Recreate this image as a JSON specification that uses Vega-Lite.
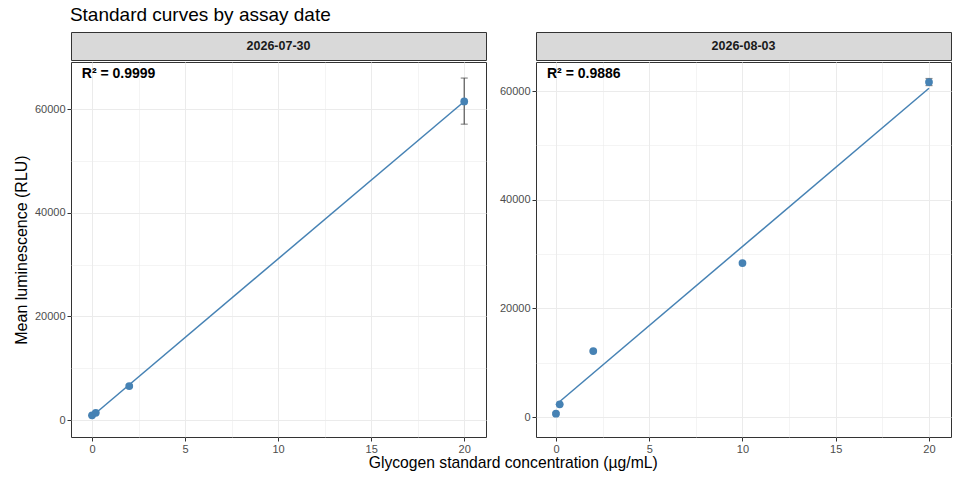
{
  "$schema": "https://vega.github.io/schema/vega-lite/v6.json",
  "background": "white",
  "padding": {"left": 12, "top": 5, "right": 5, "bottom": 5},
  "title": {
    "text": "Standard curves by assay date",
    "anchor": "start",
    "dx": 57,
    "offset": 7,
    "fontSize": 19,
    "fontWeight": "normal",
    "font": "Liberation Sans",
    "color": "#000000"
  },
  "datasets": {
    "curves": [
      {"assay_date": "2026-07-30", "conc": 0, "mean": 900, "lo": 820, "hi": 980},
      {"assay_date": "2026-07-30", "conc": 0.2, "mean": 1400, "lo": 1300, "hi": 1500},
      {"assay_date": "2026-07-30", "conc": 2, "mean": 6560, "lo": 6350, "hi": 6770},
      {"assay_date": "2026-07-30", "conc": 20, "mean": 61500, "lo": 57100, "hi": 66000},
      {"assay_date": "2026-08-03", "conc": 0, "mean": 620, "lo": 450, "hi": 800},
      {"assay_date": "2026-08-03", "conc": 0.2, "mean": 2340, "lo": 2250, "hi": 2430},
      {"assay_date": "2026-08-03", "conc": 2, "mean": 12140, "lo": 12000, "hi": 12280},
      {"assay_date": "2026-08-03", "conc": 10, "mean": 28330, "lo": 28150, "hi": 28510},
      {"assay_date": "2026-08-03", "conc": 20, "mean": 61640, "lo": 61000, "hi": 62300}
    ]
  },
  "vconcat": [
    {
      "title": {
        "text": "Glycogen standard concentration (µg/mL)",
        "orient": "bottom",
        "anchor": "middle",
        "dx": 31,
        "offset": 1,
        "fontSize": 15.7,
        "fontWeight": "normal",
        "font": "Liberation Sans",
        "color": "#000000"
      },
      "spacing": 11,
      "hconcat": [
        {
          "spacing": 0,
          "vconcat": [
            {
              "width": 415,
              "height": 28,
              "view": {"fill": "#d9d9d9", "stroke": "#333333", "strokeWidth": 1},
              "data": {"values": [{"assay_date": "2026-07-30"}]},
              "mark": {"type": "text", "fontWeight": "bold", "fontSize": 12.5, "color": "#1a1a1a", "font": "Liberation Sans"},
              "encoding": {"text": {"field": "assay_date"}}
            },
            {
              "width": 415,
              "height": 375,
              "layer": [
                {
                  "data": {"name": "curves"},
                  "transform": [{"filter": "datum.assay_date === '2026-07-30'"}],
                  "mark": {"type": "errorbar", "color": "#555555", "thickness": 1.2, "ticks": {"size": 7}},
                  "encoding": {
                    "x": {
                      "field": "conc",
                      "type": "quantitative",
                      "scale": {"domain": [-1.13, 21.17], "nice": false, "zero": false},
                      "axis": {
                        "title": null,
                        "values": [0, 2.5, 5, 7.5, 10, 12.5, 15, 17.5, 20],
                        "labelExpr": "datum.value % 5 === 0 ? datum.label : ''",
                        "tickOpacity": {"condition": {"test": "datum.value % 5 === 0", "value": 1}, "value": 0},
                        "gridWidth": {"condition": {"test": "datum.value % 5 === 0", "value": 1}, "value": 0.55}
                      }
                    },
                    "y": {
                      "field": "lo",
                      "type": "quantitative",
                      "scale": {"domain": [-3280, 69100], "nice": false, "zero": false},
                      "axis": {
                        "title": "Mean luminescence (RLU)",
                        "titlePadding": 5,
                        "values": [0, 10000, 20000, 30000, 40000, 50000, 60000],
                        "labelExpr": "datum.value % 20000 === 0 ? datum.label : ''",
                        "format": "d",
                        "tickOpacity": {"condition": {"test": "datum.value % 20000 === 0", "value": 1}, "value": 0},
                        "gridWidth": {"condition": {"test": "datum.value % 20000 === 0", "value": 1}, "value": 0.55}
                      }
                    },
                    "y2": {"field": "hi"}
                  }
                },
                {
                  "data": {"name": "curves"},
                  "transform": [
                    {"filter": "datum.assay_date === '2026-07-30'"},
                    {"regression": "mean", "on": "conc"}
                  ],
                  "mark": {"type": "line", "color": "#4682b4", "strokeWidth": 1.5},
                  "encoding": {
                    "x": {"field": "conc", "type": "quantitative"},
                    "y": {"field": "mean", "type": "quantitative"}
                  }
                },
                {
                  "data": {"name": "curves"},
                  "transform": [{"filter": "datum.assay_date === '2026-07-30'"}],
                  "mark": {"type": "circle", "color": "#4682b4", "opacity": 1, "size": 60},
                  "encoding": {
                    "x": {"field": "conc", "type": "quantitative"},
                    "y": {"field": "mean", "type": "quantitative"}
                  }
                },
                {
                  "data": {"values": [{"label": "R² = 0.9999"}]},
                  "mark": {"type": "text", "align": "left", "baseline": "middle", "fontWeight": "bold", "fontSize": 14, "color": "#000000", "font": "Liberation Sans"},
                  "encoding": {
                    "x": {"datum": -0.55, "type": "quantitative"},
                    "y": {"datum": 66750, "type": "quantitative"},
                    "text": {"field": "label"}
                  }
                }
              ]
            }
          ]
        },
        {
          "spacing": 0,
          "vconcat": [
            {
              "width": 415,
              "height": 28,
              "view": {"fill": "#d9d9d9", "stroke": "#333333", "strokeWidth": 1},
              "data": {"values": [{"assay_date": "2026-08-03"}]},
              "mark": {"type": "text", "fontWeight": "bold", "fontSize": 12.5, "color": "#1a1a1a", "font": "Liberation Sans"},
              "encoding": {"text": {"field": "assay_date"}}
            },
            {
              "width": 415,
              "height": 375,
              "layer": [
                {
                  "data": {"name": "curves"},
                  "transform": [{"filter": "datum.assay_date === '2026-08-03'"}],
                  "mark": {"type": "errorbar", "color": "#555555", "thickness": 1.2, "ticks": {"size": 7}},
                  "encoding": {
                    "x": {
                      "field": "conc",
                      "type": "quantitative",
                      "scale": {"domain": [-1.07, 21.18], "nice": false, "zero": false},
                      "axis": {
                        "title": null,
                        "values": [0, 2.5, 5, 7.5, 10, 12.5, 15, 17.5, 20],
                        "labelExpr": "datum.value % 5 === 0 ? datum.label : ''",
                        "tickOpacity": {"condition": {"test": "datum.value % 5 === 0", "value": 1}, "value": 0},
                        "gridWidth": {"condition": {"test": "datum.value % 5 === 0", "value": 1}, "value": 0.55}
                      }
                    },
                    "y": {
                      "field": "lo",
                      "type": "quantitative",
                      "scale": {"domain": [-3680, 65340], "nice": false, "zero": false},
                      "axis": {
                        "title": null,
                        "values": [0, 10000, 20000, 30000, 40000, 50000, 60000],
                        "labelExpr": "datum.value % 20000 === 0 ? datum.label : ''",
                        "format": "d",
                        "tickOpacity": {"condition": {"test": "datum.value % 20000 === 0", "value": 1}, "value": 0},
                        "gridWidth": {"condition": {"test": "datum.value % 20000 === 0", "value": 1}, "value": 0.55}
                      }
                    },
                    "y2": {"field": "hi"}
                  }
                },
                {
                  "data": {"name": "curves"},
                  "transform": [
                    {"filter": "datum.assay_date === '2026-08-03'"},
                    {"regression": "mean", "on": "conc"}
                  ],
                  "mark": {"type": "line", "color": "#4682b4", "strokeWidth": 1.5},
                  "encoding": {
                    "x": {"field": "conc", "type": "quantitative"},
                    "y": {"field": "mean", "type": "quantitative"}
                  }
                },
                {
                  "data": {"name": "curves"},
                  "transform": [{"filter": "datum.assay_date === '2026-08-03'"}],
                  "mark": {"type": "circle", "color": "#4682b4", "opacity": 1, "size": 60},
                  "encoding": {
                    "x": {"field": "conc", "type": "quantitative"},
                    "y": {"field": "mean", "type": "quantitative"}
                  }
                },
                {
                  "data": {"values": [{"label": "R² = 0.9886"}]},
                  "mark": {"type": "text", "align": "left", "baseline": "middle", "fontWeight": "bold", "fontSize": 14, "color": "#000000", "font": "Liberation Sans"},
                  "encoding": {
                    "x": {"datum": -0.48, "type": "quantitative"},
                    "y": {"datum": 63130, "type": "quantitative"},
                    "text": {"field": "label"}
                  }
                }
              ]
            }
          ]
        }
      ]
    }
  ],
  "config": {
    "view": {"stroke": "#333333", "strokeWidth": 1},
    "font": "Liberation Sans",
    "axis": {
      "domain": false,
      "tickColor": "#333333",
      "tickSize": 4,
      "labelColor": "#4d4d4d",
      "labelFontSize": 11,
      "labelFont": "Liberation Sans",
      "labelPadding": 2,
      "titleFont": "Liberation Sans",
      "titleFontSize": 16,
      "titleFontWeight": "normal",
      "titleColor": "#000000",
      "gridColor": "#ebebeb"
    }
  }
}
